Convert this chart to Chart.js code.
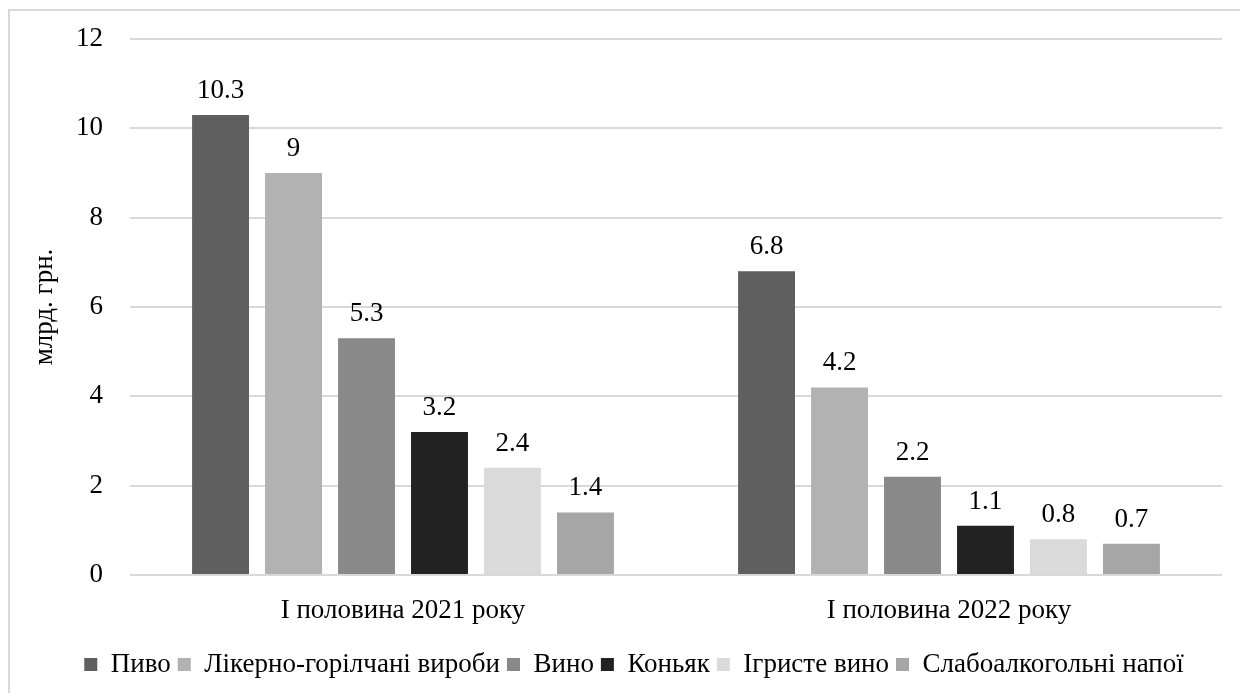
<!DOCTYPE html>
<html>
<head>
<meta charset="utf-8">
<script src="https://cdn.jsdelivr.net/npm/chart.js@4.4.1/dist/chart.umd.min.js"></script>
<style>
  html, body { margin: 0; padding: 0; background: #fff; }
  #wrap { position: relative; width: 1240px; height: 693px; overflow: hidden; }
  #frame { position: absolute; left: 8px; top: 9px; width: 1300px; height: 800px;
           border-left: 2px solid #d9d9d9; border-top: 2px solid #d9d9d9; }
  canvas { position: absolute; left: 0; top: 0; }
</style>
</head>
<body>
<div id="wrap">
  <div id="frame"></div>
  <canvas id="chart" width="1240" height="693"></canvas>
</div>
<script>
// ------------------------------
// DATA
// ------------------------------

const periods = ["І половина 2021 року", "І половина 2022 року"]

const drinks = ["Пиво", "Лікерно-горілчані вироби", "Вино", "Коньяк", "Ігристе вино", "Слабоалкогольні напої"]
const beer    = [10.3, 6.8]
const liquor  = [9, 4.2]
const wine    = [5.3, 2.2]
const cognac  = [3.2, 1.1]
const sparkly = [2.4, 0.8]
const lowAlc  = [1.4, 0.7]

const yTicks = [0, 2, 4, 6, 8, 10, 12]
const yTitle = "млрд. грн."

const colors = ["#5f5f5f", "#b2b2b2", "#898989", "#222222", "#dadada", "#a6a6a6"]

const FONT = '"Liberation Serif", "Times New Roman", serif'
const SIZE = 27

// ------------------------------
// VALUE LABELS ABOVE BARS
// ------------------------------

const valueLabels = {
    id: "valueLabels",
    afterDatasetsDraw(chart){
        const ctx = chart.ctx
        ctx.save()
        ctx.font = SIZE + "px " + FONT
        ctx.fillStyle = "#000"
        ctx.textAlign = "center"
        ctx.textBaseline = "alphabetic"
        chart.data.datasets.forEach((ds, i) => {
            chart.getDatasetMeta(i).data.forEach((bar, j) => {
                ctx.fillText(String(ds.data[j]), bar.x, bar.y - 17)
            })
        })
        ctx.restore()
    }
}

// ------------------------------
// CHART
// ------------------------------

const series = [beer, liquor, wine, cognac, sparkly, lowAlc]

function drawChart(){

    Chart.defaults.font.family = FONT
    Chart.defaults.font.size = SIZE

    new Chart(document.getElementById("chart"), {
        type: "bar",
        data: {
            labels: periods,
            datasets: series.map((d, i) => ({
                label: drinks[i],
                data: d,
                backgroundColor: colors[i],
                borderWidth: 0,
                categoryPercentage: 0.802,
                barPercentage: 0.78
            }))
        },
        options: {
            responsive: false,
            animation: false,
            layout: { padding: { left: 46, right: 18, top: 39, bottom: 5 } },
            plugins: {
                tooltip: { enabled: false },
                legend: {
                    position: "bottom",
                    labels: {
                        font: { family: FONT, size: SIZE },
                        color: "#000",
                        boxWidth: 13,
                        boxHeight: 13,
                        padding: 7
                    }
                }
            },
            scales: {
                x: {
                    grid: { display: false },
                    border: { display: false },
                    ticks: { font: { family: FONT, size: SIZE }, color: "#000", padding: 12 },
                    afterFit(scale){ scale.height = 69 }
                },
                y: {
                    min: 0,
                    max: 12,
                    afterBuildTicks(scale){ scale.ticks = yTicks.map(v => ({ value: v })) },
                    grid: { color: "#d9d9d9", lineWidth: 2, drawTicks: false },
                    border: { display: false },
                    ticks: { font: { family: FONT, size: SIZE }, color: "#000", padding: 27 },
                    title: {
                        display: true,
                        text: yTitle,
                        font: { family: FONT, size: SIZE },
                        color: "#000",
                        padding: { top: -17, bottom: 0 }
                    },
                    afterFit(scale){
                        scale.width = 84
                        scale.paddingTop = 0
                        scale.paddingBottom = 0
                    }
                }
            }
        },
        plugins: [valueLabels]
    })
}

document.fonts.load(SIZE + "px " + FONT).then(drawChart, drawChart)
</script>
</body>
</html>
